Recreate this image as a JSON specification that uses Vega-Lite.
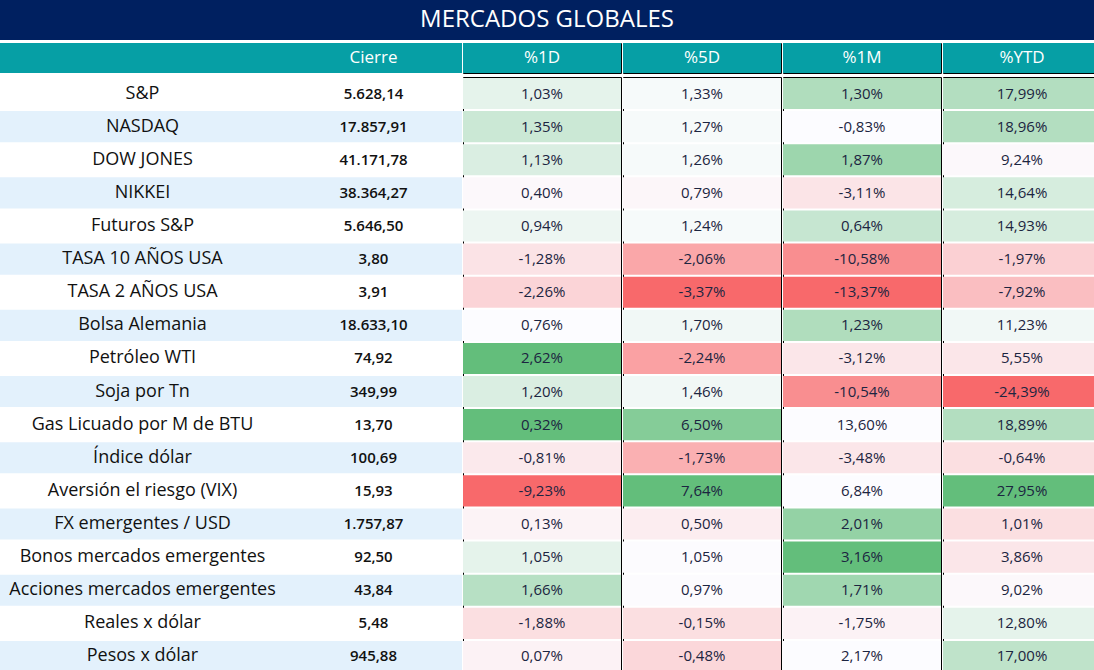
{
  "$schema": "https://vega.github.io/schema/vega-lite/v6.json",
  "padding": 0,
  "background": "white",
  "spacing": 2,
  "config": {"view": {"stroke": null}, "concat": {"spacing": 0}, "text": {"font": "Open Sans"}},
  "datasets": {
    "tabla": [
      {"orden": 1, "nombre": "S&P", "cierre": "5.628,14", "d1": "1,03%", "d5": "1,33%", "m1": "1,30%", "ytd": "17,99%", "cd1": 0.15, "cd5": 0.04, "cm1": 0.5, "cytd": 0.48},
      {"orden": 2, "nombre": "NASDAQ", "cierre": "17.857,91", "d1": "1,35%", "d5": "1,27%", "m1": "-0,83%", "ytd": "18,96%", "cd1": 0.32, "cd5": 0.04, "cm1": 0.0, "cytd": 0.48},
      {"orden": 3, "nombre": "DOW JONES", "cierre": "41.171,78", "d1": "1,13%", "d5": "1,26%", "m1": "1,87%", "ytd": "9,24%", "cd1": 0.22, "cd5": 0.04, "cm1": 0.62, "cytd": -0.03},
      {"orden": 4, "nombre": "NIKKEI", "cierre": "38.364,27", "d1": "0,40%", "d5": "0,79%", "m1": "-3,11%", "ytd": "14,64%", "cd1": -0.03, "cd5": -0.04, "cm1": -0.16, "cytd": 0.25},
      {"orden": 5, "nombre": "Futuros S&P", "cierre": "5.646,50", "d1": "0,94%", "d5": "1,24%", "m1": "0,64%", "ytd": "14,93%", "cd1": 0.1, "cd5": 0.04, "cm1": 0.35, "cytd": 0.25},
      {"orden": 6, "nombre": "TASA 10 AÑOS USA", "cierre": "3,80", "d1": "-1,28%", "d5": "-2,06%", "m1": "-10,58%", "ytd": "-1,97%", "cd1": -0.17, "cd5": -0.58, "cm1": -0.75, "cytd": -0.3},
      {"orden": 7, "nombre": "TASA 2 AÑOS USA", "cierre": "3,91", "d1": "-2,26%", "d5": "-3,37%", "m1": "-13,37%", "ytd": "-7,92%", "cd1": -0.27, "cd5": -1, "cm1": -1, "cytd": -0.42},
      {"orden": 8, "nombre": "Bolsa Alemania", "cierre": "18.633,10", "d1": "0,76%", "d5": "1,70%", "m1": "1,23%", "ytd": "11,23%", "cd1": 0.0, "cd5": 0.07, "cm1": 0.5, "cytd": 0.07},
      {"orden": 9, "nombre": "Petróleo WTI", "cierre": "74,92", "d1": "2,62%", "d5": "-2,24%", "m1": "-3,12%", "ytd": "5,55%", "cd1": 1, "cd5": -0.62, "cm1": -0.15, "cytd": -0.15},
      {"orden": 10, "nombre": "Soja por Tn", "cierre": "349,99", "d1": "1,20%", "d5": "1,46%", "m1": "-10,54%", "ytd": "-24,39%", "cd1": 0.22, "cd5": 0.07, "cm1": -0.75, "cytd": -1},
      {"orden": 11, "nombre": "Gas Licuado por M de BTU", "cierre": "13,70", "d1": "0,32%", "d5": "6,50%", "m1": "13,60%", "ytd": "18,89%", "cd1": 1, "cd5": 0.78, "cm1": 0.0, "cytd": 0.48},
      {"orden": 12, "nombre": "Índice dólar", "cierre": "100,69", "d1": "-0,81%", "d5": "-1,73%", "m1": "-3,48%", "ytd": "-0,64%", "cd1": -0.13, "cd5": -0.52, "cm1": -0.15, "cytd": -0.2},
      {"orden": 13, "nombre": "Aversión el riesgo (VIX)", "cierre": "15,93", "d1": "-9,23%", "d5": "7,64%", "m1": "6,84%", "ytd": "27,95%", "cd1": -1, "cd5": 1, "cm1": 0.0, "cytd": 1},
      {"orden": 14, "nombre": "FX emergentes / USD", "cierre": "1.757,87", "d1": "0,13%", "d5": "0,50%", "m1": "2,01%", "ytd": "1,01%", "cd1": -0.06, "cd5": -0.1, "cm1": 0.68, "cytd": -0.2},
      {"orden": 15, "nombre": "Bonos mercados emergentes", "cierre": "92,50", "d1": "1,05%", "d5": "1,05%", "m1": "3,16%", "ytd": "3,86%", "cd1": 0.15, "cd5": -0.01, "cm1": 1, "cytd": -0.15},
      {"orden": 16, "nombre": "Acciones mercados emergentes", "cierre": "43,84", "d1": "1,66%", "d5": "0,97%", "m1": "1,71%", "ytd": "9,02%", "cd1": 0.45, "cd5": -0.01, "cm1": 0.6, "cytd": -0.03},
      {"orden": 17, "nombre": "Reales x dólar", "cierre": "5,48", "d1": "-1,88%", "d5": "-0,15%", "m1": "-1,75%", "ytd": "12,80%", "cd1": -0.2, "cd5": -0.2, "cm1": -0.07, "cytd": 0.15},
      {"orden": 18, "nombre": "Pesos x dólar", "cierre": "945,88", "d1": "0,07%", "d5": "-0,48%", "m1": "2,17%", "ytd": "17,00%", "cd1": -0.07, "cd5": -0.25, "cm1": 0.0, "cytd": 0.4}
    ]
  },
  "vconcat": [
    {
      "width": 1094, "height": 40,
      "data": {"values": [{"titulo": "MERCADOS GLOBALES"}]},
      "encoding": {"y": {"field": "titulo", "type": "nominal", "axis": null}},
      "layer": [
        {"mark": {"type": "rect", "color": "#002060"}},
        {"mark": {"type": "text", "color": "#ffffff", "fontSize": 24}, "encoding": {"text": {"field": "titulo"}}}
      ]
    },
    {
      "spacing": 0,
      "hconcat": [
        {"width": 285, "height": 30, "data": {"values": [{"t": ""}]}, "encoding": {"y": {"field": "t", "type": "nominal", "axis": null}},
         "layer": [{"mark": {"type": "rect", "color": "#069fa5"}}, {"mark": {"type": "text", "color": "#ffffff", "fontSize": 17}, "encoding": {"text": {"field": "t"}}}]},
        {"width": 177, "height": 30, "data": {"values": [{"t": "Cierre"}]}, "encoding": {"y": {"field": "t", "type": "nominal", "axis": null}},
         "layer": [{"mark": {"type": "rect", "color": "#069fa5"}}, {"mark": {"type": "text", "color": "#ffffff", "fontSize": 17}, "encoding": {"text": {"field": "t"}}}]},
        {"width": 158, "height": 30, "view": {"stroke": "#000000"}, "data": {"values": [{"t": "%1D"}]}, "encoding": {"y": {"field": "t", "type": "nominal", "axis": null}},
         "layer": [{"mark": {"type": "rect", "color": "#069fa5"}}, {"mark": {"type": "text", "color": "#ffffff", "fontSize": 17}, "encoding": {"text": {"field": "t"}}}]},
        {"width": 158, "height": 30, "view": {"stroke": "#000000"}, "data": {"values": [{"t": "%5D"}]}, "encoding": {"y": {"field": "t", "type": "nominal", "axis": null}},
         "layer": [{"mark": {"type": "rect", "color": "#069fa5"}}, {"mark": {"type": "text", "color": "#ffffff", "fontSize": 17}, "encoding": {"text": {"field": "t"}}}]},
        {"width": 158, "height": 30, "view": {"stroke": "#000000"}, "data": {"values": [{"t": "%1M"}]}, "encoding": {"y": {"field": "t", "type": "nominal", "axis": null}},
         "layer": [{"mark": {"type": "rect", "color": "#069fa5"}}, {"mark": {"type": "text", "color": "#ffffff", "fontSize": 17}, "encoding": {"text": {"field": "t"}}}]},
        {"width": 158, "height": 30, "view": {"stroke": "#000000"}, "data": {"values": [{"t": "%YTD"}]}, "encoding": {"y": {"field": "t", "type": "nominal", "axis": null}},
         "layer": [{"mark": {"type": "rect", "color": "#069fa5"}}, {"mark": {"type": "text", "color": "#ffffff", "fontSize": 17}, "encoding": {"text": {"field": "t"}}}]}
      ]
    },
    {
      "spacing": 0,
      "hconcat": [
        {
          "width": 285, "height": 596,
          "data": {"name": "tabla"},
          "encoding": {"y": {"field": "nombre", "type": "nominal", "sort": null, "axis": null, "scale": {"paddingInner": 0.06, "paddingOuter": 0.03}}},
          "layer": [
            {"mark": {"type": "rect"}, "encoding": {"fill": {"condition": {"test": "datum.orden % 2 == 0", "value": "#e3f1fc"}, "value": "#ffffff"}}},
            {"mark": {"type": "text", "fontSize": 18, "color": "#111111"}, "encoding": {"text": {"field": "nombre"}}}
          ]
        },
        {
          "width": 177, "height": 596,
          "data": {"name": "tabla"},
          "encoding": {"y": {"field": "nombre", "type": "nominal", "sort": null, "axis": null, "scale": {"paddingInner": 0.06, "paddingOuter": 0.03}}},
          "layer": [
            {"mark": {"type": "rect"}, "encoding": {"fill": {"condition": {"test": "datum.orden % 2 == 0", "value": "#e3f1fc"}, "value": "#ffffff"}}},
            {"mark": {"type": "text", "fontSize": 15, "fontWeight": 600, "color": "#111111"}, "encoding": {"text": {"field": "cierre"}}}
          ]
        },
        {
          "width": 158, "height": 596,
          "view": {"stroke": "#000000"},
          "data": {"name": "tabla"},
          "encoding": {"y": {"field": "nombre", "type": "nominal", "sort": null, "axis": null, "scale": {"paddingInner": 0.06, "paddingOuter": 0.03}}},
          "layer": [
            {"mark": {"type": "rect"}, "encoding": {"fill": {"field": "cd1", "type": "quantitative", "legend": null, "scale": {"domain": [-1, 0, 1], "range": ["#f8696b", "#fcfcff", "#63be7b"], "interpolate": "rgb"}}}},
            {"mark": {"type": "text", "fontSize": 15, "color": "#1c2541"}, "encoding": {"text": {"field": "d1"}}}
          ]
        },
        {
          "width": 158, "height": 596,
          "view": {"stroke": "#000000"},
          "data": {"name": "tabla"},
          "encoding": {"y": {"field": "nombre", "type": "nominal", "sort": null, "axis": null, "scale": {"paddingInner": 0.06, "paddingOuter": 0.03}}},
          "layer": [
            {"mark": {"type": "rect"}, "encoding": {"fill": {"field": "cd5", "type": "quantitative", "legend": null, "scale": {"domain": [-1, 0, 1], "range": ["#f8696b", "#fcfcff", "#63be7b"], "interpolate": "rgb"}}}},
            {"mark": {"type": "text", "fontSize": 15, "color": "#1c2541"}, "encoding": {"text": {"field": "d5"}}}
          ]
        },
        {
          "width": 158, "height": 596,
          "view": {"stroke": "#000000"},
          "data": {"name": "tabla"},
          "encoding": {"y": {"field": "nombre", "type": "nominal", "sort": null, "axis": null, "scale": {"paddingInner": 0.06, "paddingOuter": 0.03}}},
          "layer": [
            {"mark": {"type": "rect"}, "encoding": {"fill": {"field": "cm1", "type": "quantitative", "legend": null, "scale": {"domain": [-1, 0, 1], "range": ["#f8696b", "#fcfcff", "#63be7b"], "interpolate": "rgb"}}}},
            {"mark": {"type": "text", "fontSize": 15, "color": "#1c2541"}, "encoding": {"text": {"field": "m1"}}}
          ]
        },
        {
          "width": 158, "height": 596,
          "view": {"stroke": "#000000"},
          "data": {"name": "tabla"},
          "encoding": {"y": {"field": "nombre", "type": "nominal", "sort": null, "axis": null, "scale": {"paddingInner": 0.06, "paddingOuter": 0.03}}},
          "layer": [
            {"mark": {"type": "rect"}, "encoding": {"fill": {"field": "cytd", "type": "quantitative", "legend": null, "scale": {"domain": [-1, 0, 1], "range": ["#f8696b", "#fcfcff", "#63be7b"], "interpolate": "rgb"}}}},
            {"mark": {"type": "text", "fontSize": 15, "color": "#1c2541"}, "encoding": {"text": {"field": "ytd"}}}
          ]
        }
      ]
    }
  ]
}
